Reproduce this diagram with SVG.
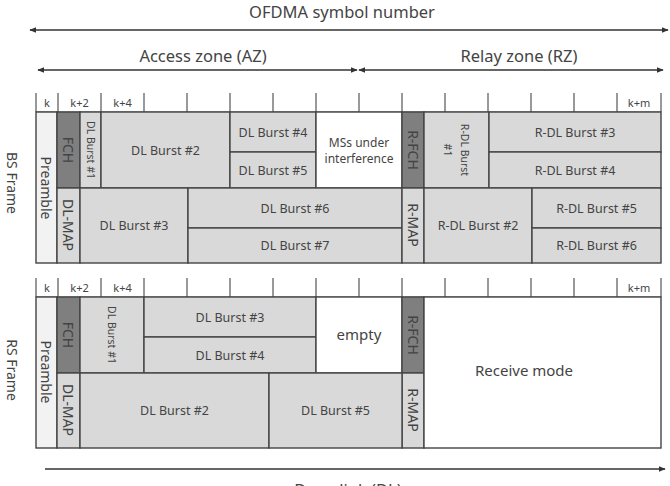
<svg xmlns="http://www.w3.org/2000/svg" width="670" height="486" viewBox="0 0 670 486">
<defs>
<marker id="ah" viewBox="0 0 10 10" refX="9" refY="5" markerWidth="7" markerHeight="7" orient="auto-start-reverse" markerUnits="userSpaceOnUse">
<path d="M0,1 L10,5 L0,9 z" fill="#333"/>
</marker>
<style>
text{font-family:"Noto Sans","DejaVu Sans",sans-serif;fill:#444}
.t{font-size:16.5px;text-anchor:middle}
.b{font-size:12.5px;text-anchor:middle;dominant-baseline:central}
.s{font-size:10.5px;text-anchor:middle;dominant-baseline:central}
.h{font-size:11px;text-anchor:middle}
.v{font-size:14px;text-anchor:middle;dominant-baseline:central}
.cell{stroke:#444;stroke-width:1.4}
.g{fill:#d9d9d9}
.p{fill:#f2f2f2}
.d{fill:#7f7f7f}
.w{fill:#ffffff}
.tick{stroke:#555;stroke-width:1.2}
.arr{stroke:#333;stroke-width:1.5;fill:none}
</style>
</defs>
<rect width="670" height="486" fill="#fff"/>

<g id="titles">
<text class="t" x="342" y="18" style="font-size:16.5px">OFDMA symbol number</text>
<text class="t" x="203" y="62">Access zone (AZ)</text>
<text class="t" x="519" y="62">Relay zone (RZ)</text>
<text class="t" x="348" y="496">Downlink (DL)</text>
<text class="t" x="12" y="183" transform="rotate(90 12 183)" style="font-size:14px;dominant-baseline:central">BS Frame</text>
<text class="t" x="12" y="370" transform="rotate(90 12 370)" style="font-size:14px;dominant-baseline:central">RS Frame</text>
</g>

<g id="connectors">
<line class="arr" x1="30" y1="30" x2="668" y2="30" marker-start="url(#ah)" marker-end="url(#ah)"/>
<line class="arr" x1="38" y1="70" x2="357" y2="70" marker-start="url(#ah)" marker-end="url(#ah)"/>
<line class="arr" x1="359" y1="70" x2="663" y2="70" marker-start="url(#ah)" marker-end="url(#ah)"/>
<line class="arr" x1="45" y1="469" x2="665" y2="469" marker-end="url(#ah)"/>
</g>

<g id="bs-header">
<line class="tick" x1="36" y1="112" x2="661" y2="112"/>
<g class="tick">
<line x1="36" y1="93" x2="36" y2="112"/><line x1="58" y1="93" x2="58" y2="112"/><line x1="101" y1="93" x2="101" y2="112"/><line x1="144" y1="93" x2="144" y2="112"/><line x1="187" y1="93" x2="187" y2="112"/><line x1="230" y1="93" x2="230" y2="112"/><line x1="273" y1="93" x2="273" y2="112"/><line x1="316" y1="93" x2="316" y2="112"/><line x1="359" y1="93" x2="359" y2="112"/><line x1="402" y1="93" x2="402" y2="112"/><line x1="445" y1="93" x2="445" y2="112"/><line x1="488" y1="93" x2="488" y2="112"/><line x1="531" y1="93" x2="531" y2="112"/><line x1="574" y1="93" x2="574" y2="112"/><line x1="617" y1="93" x2="617" y2="112"/><line x1="661" y1="93" x2="661" y2="112"/>
</g>
<text class="h" x="47" y="107">k</text>
<text class="h" x="79.5" y="107">k+2</text>
<text class="h" x="122.5" y="107">k+4</text>
<text class="h" x="639" y="107">k+m</text>
</g>

<g id="bs-frame">
<g id="bs-preamble"><rect class="cell p" x="36" y="112" width="21" height="151"/><text class="v" x="46.5" y="188" transform="rotate(90 46.5 188)">Preamble</text></g>
<g id="bs-fch"><rect class="cell d" x="57" y="112" width="23" height="76"/><text class="v" x="68.5" y="150" transform="rotate(90 68.5 150)">FCH</text></g>
<g id="bs-dlmap"><rect class="cell g" x="57" y="188" width="23" height="75"/><text class="v" x="68.5" y="225" transform="rotate(90 68.5 225)">DL-MAP</text></g>
<g id="bs-dl1"><rect class="cell g" x="80" y="112" width="21" height="76"/><text class="s" x="90.5" y="150" transform="rotate(90 90.5 150)">DL Burst #1</text></g>
<g id="bs-dl2"><rect class="cell g" x="101" y="112" width="129" height="76"/><text class="b" x="165.5" y="150">DL Burst #2</text></g>
<g id="bs-dl4"><rect class="cell g" x="230" y="112" width="86" height="40"/><text class="b" x="273" y="132">DL Burst #4</text></g>
<g id="bs-dl5"><rect class="cell g" x="230" y="152" width="86" height="36"/><text class="b" x="273" y="170">DL Burst #5</text></g>
<g id="bs-ms"><rect class="cell w" x="316" y="112" width="86" height="76"/><text class="b" x="359" y="142" style="font-size:12px">MSs under</text><text class="b" x="359" y="158" style="font-size:12px">interference</text></g>
<g id="bs-rfch"><rect class="cell d" x="402" y="112" width="22" height="76"/><text class="v" x="413" y="150" transform="rotate(90 413 150)">R-FCH</text></g>
<g id="bs-rdl1"><rect class="cell g" x="424" y="112" width="65" height="76"/><text class="s" transform="rotate(90 456.5 150)" x="456.5" y="150"><tspan x="456.5" dy="-8">R-DL Burst</tspan><tspan x="456.5" dy="17">#1</tspan></text></g>
<g id="bs-rdl3"><rect class="cell g" x="489" y="112" width="172" height="40"/><text class="b" x="575" y="132">R-DL Burst #3</text></g>
<g id="bs-rdl4"><rect class="cell g" x="489" y="152" width="172" height="36"/><text class="b" x="575" y="170">R-DL Burst #4</text></g>
<g id="bs-dl3"><rect class="cell g" x="80" y="188" width="108" height="75"/><text class="b" x="134" y="225">DL Burst #3</text></g>
<g id="bs-dl6"><rect class="cell g" x="188" y="188" width="214" height="40"/><text class="b" x="295" y="208">DL Burst #6</text></g>
<g id="bs-dl7"><rect class="cell g" x="188" y="228" width="214" height="35"/><text class="b" x="295" y="245.5">DL Burst #7</text></g>
<g id="bs-rmap"><rect class="cell g" x="402" y="188" width="22" height="75"/><text class="v" x="413" y="225" transform="rotate(90 413 225)">R-MAP</text></g>
<g id="bs-rdl2"><rect class="cell g" x="424" y="188" width="108" height="75"/><text class="b" x="478" y="225">R-DL Burst #2</text></g>
<g id="bs-rdl5"><rect class="cell g" x="532" y="188" width="129" height="40"/><text class="b" x="596.5" y="208">R-DL Burst #5</text></g>
<g id="bs-rdl6"><rect class="cell g" x="532" y="228" width="129" height="35"/><text class="b" x="596.5" y="245.5">R-DL Burst #6</text></g>
</g>

<g id="rs-header">
<line class="tick" x1="36" y1="297" x2="661" y2="297"/>
<g class="tick">
<line x1="36" y1="278" x2="36" y2="297"/><line x1="58" y1="278" x2="58" y2="297"/><line x1="101" y1="278" x2="101" y2="297"/><line x1="144" y1="278" x2="144" y2="297"/><line x1="187" y1="278" x2="187" y2="297"/><line x1="230" y1="278" x2="230" y2="297"/><line x1="273" y1="278" x2="273" y2="297"/><line x1="316" y1="278" x2="316" y2="297"/><line x1="359" y1="278" x2="359" y2="297"/><line x1="402" y1="278" x2="402" y2="297"/><line x1="445" y1="278" x2="445" y2="297"/><line x1="488" y1="278" x2="488" y2="297"/><line x1="531" y1="278" x2="531" y2="297"/><line x1="574" y1="278" x2="574" y2="297"/><line x1="617" y1="278" x2="617" y2="297"/><line x1="661" y1="278" x2="661" y2="297"/>
</g>
<text class="h" x="47" y="292">k</text>
<text class="h" x="79.5" y="292">k+2</text>
<text class="h" x="122.5" y="292">k+4</text>
<text class="h" x="639" y="292">k+m</text>
</g>

<g id="rs-frame">
<g id="rs-preamble"><rect class="cell p" x="36" y="297" width="21" height="151"/><text class="v" x="46.5" y="372" transform="rotate(90 46.5 372)">Preamble</text></g>
<g id="rs-fch"><rect class="cell d" x="57" y="297" width="23" height="76"/><text class="v" x="68.5" y="335" transform="rotate(90 68.5 335)">FCH</text></g>
<g id="rs-dlmap"><rect class="cell g" x="57" y="373" width="23" height="75"/><text class="v" x="68.5" y="410" transform="rotate(90 68.5 410)">DL-MAP</text></g>
<g id="rs-dl1"><rect class="cell g" x="80" y="297" width="64" height="76"/><text class="s" x="112" y="335" transform="rotate(90 112 335)">DL Burst #1</text></g>
<g id="rs-dl3"><rect class="cell g" x="144" y="297" width="172" height="40"/><text class="b" x="230" y="317">DL Burst #3</text></g>
<g id="rs-dl4"><rect class="cell g" x="144" y="337" width="172" height="36"/><text class="b" x="230" y="355">DL Burst #4</text></g>
<g id="rs-empty"><rect class="cell w" x="316" y="297" width="86" height="76"/><text class="b" x="359" y="334" style="font-size:15px">empty</text></g>
<g id="rs-rfch"><rect class="cell d" x="402" y="297" width="22" height="76"/><text class="v" x="413" y="335" transform="rotate(90 413 335)">R-FCH</text></g>
<g id="rs-rmap"><rect class="cell g" x="402" y="373" width="22" height="75"/><text class="v" x="413" y="410" transform="rotate(90 413 410)">R-MAP</text></g>
<g id="rs-recv"><rect class="cell w" x="424" y="297" width="237" height="151"/><text class="b" x="524" y="370" style="font-size:15px">Receive mode</text></g>
<g id="rs-dl2"><rect class="cell g" x="80" y="373" width="189" height="75"/><text class="b" x="174.5" y="410">DL Burst #2</text></g>
<g id="rs-dl5"><rect class="cell g" x="269" y="373" width="133" height="75"/><text class="b" x="335.5" y="410">DL Burst #5</text></g>
</g>
</svg>
